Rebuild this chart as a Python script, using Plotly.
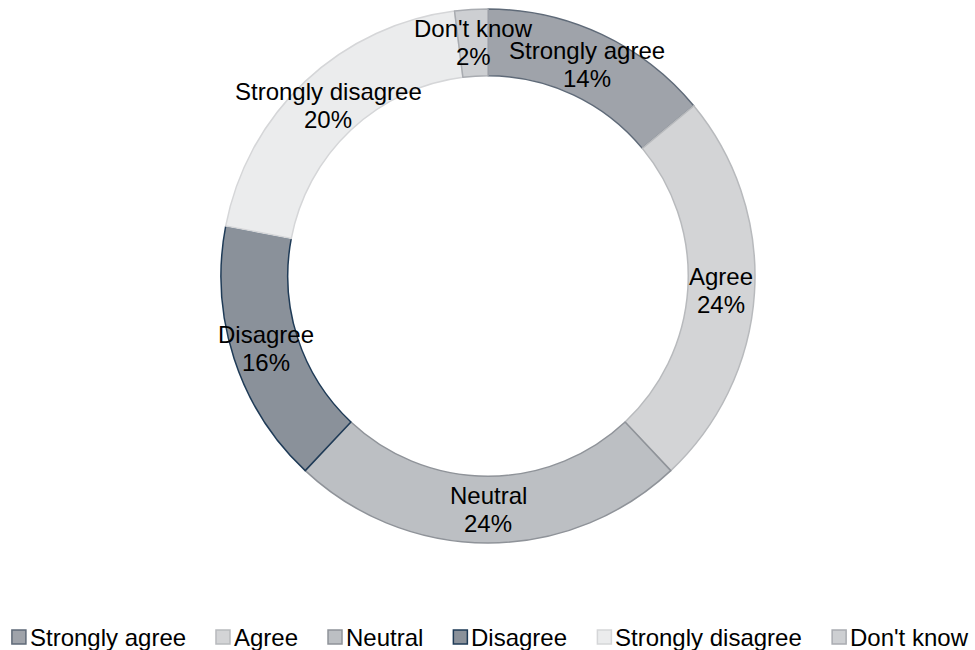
import math
import plotly.graph_objects as go

# Survey responses (share of respondents, %)
categories = ["Strongly agree", "Agree", "Neutral", "Disagree", "Strongly disagree", "Don't know"]
shares = [14, 24, 24, 16, 20, 2]

fill_colors = ["#9fa3aa", "#d3d4d6", "#bcbfc3", "#8a919a", "#ebeced", "#cdcfd2"]
edge_colors = ["#5f6a78", "#b8babd", "#8f9399", "#1f3b57", "#d5d6d8", "#a9acb1"]

W, H = 975, 650
CX, CY = 488, 276          # ring centre in pixels
R_OUT = 267                # outer radius in pixels
HOLE = 0.75
R_MID = R_OUT * (1 + HOLE) / 2
FONT = "Liberation Sans, Arial, sans-serif"
FS = 24

fig = go.Figure(
    go.Pie(
        labels=categories,
        values=shares,
        hole=HOLE,
        sort=False,
        direction="clockwise",
        rotation=0,
        textinfo="none",
        hoverinfo="label+percent",
        showlegend=False,
        marker=dict(colors=fill_colors, line=dict(color=edge_colors, width=1.5)),
        domain=dict(
            x=[(CX - R_OUT) / W, (CX + R_OUT) / W],
            y=[(H - CY - R_OUT) / H, (H - CY + R_OUT) / H],
        ),
    )
)

# Slice labels placed in the middle of each ring segment
total = sum(shares)
cum = 0
annotations = []
for name, v in zip(categories, shares):
    mid = (cum + v / 2) / total * 2 * math.pi
    cum += v
    px = CX + R_MID * math.sin(mid)
    py = CY - R_MID * math.cos(mid)
    for txt, shift in ((name, 14), (f"{round(v / total * 100)}%", -14)):
        annotations.append(
            dict(
                x=px / W, y=1 - py / H, xref="paper", yref="paper",
                text=txt, showarrow=False, yshift=shift,
                xanchor="center", yanchor="middle",
                font=dict(family=FONT, size=FS, color="#000000"),
            )
        )

# Legend row: compact square swatch followed by its label.
# Label widths use Arial/Liberation Sans advance widths (per 1000 em).
ADV = {" ": 278, "'": 191, "A": 667, "D": 722, "N": 722, "S": 667, "a": 556,
       "d": 556, "e": 556, "g": 556, "i": 222, "k": 500, "l": 222, "n": 556,
       "o": 556, "r": 333, "s": 500, "t": 278, "u": 556, "w": 722, "y": 500}


def text_width(s):
    return sum(ADV.get(c, 556) for c in s) * FS / 1000


SW = 14        # swatch size
SW_GAP = 3     # swatch to label
ITEM_GAP = 31  # label to next swatch
LEG_Y = 637    # legend row centre (px from top)

widths = [text_width(c) for c in categories]
row_w = sum(widths) + len(categories) * (SW + SW_GAP) + (len(categories) - 1) * ITEM_GAP
x0 = (W - row_w) / 2 + 2

shapes = []
for name, w, fc, ec in zip(categories, widths, fill_colors, edge_colors):
    shapes.append(
        dict(
            type="rect", xref="paper", yref="paper",
            x0=x0 / W, x1=(x0 + SW) / W,
            y0=1 - (LEG_Y + SW / 2) / H, y1=1 - (LEG_Y - SW / 2) / H,
            fillcolor=fc, line=dict(color=ec, width=1.5),
        )
    )
    annotations.append(
        dict(
            x=(x0 + SW + SW_GAP) / W, y=1 - LEG_Y / H, xref="paper", yref="paper",
            text=name, showarrow=False, xanchor="left", yanchor="middle",
            borderpad=0, font=dict(family=FONT, size=FS, color="#000000"),
        )
    )
    x0 += SW + SW_GAP + w + ITEM_GAP

fig.update_layout(
    width=W,
    height=H,
    margin=dict(l=0, r=0, t=0, b=0),
    paper_bgcolor="white",
    plot_bgcolor="white",
    font=dict(family=FONT, size=FS, color="#000000"),
    annotations=annotations,
    shapes=shapes,
    showlegend=False,
)

fig.write_html("out.html")
